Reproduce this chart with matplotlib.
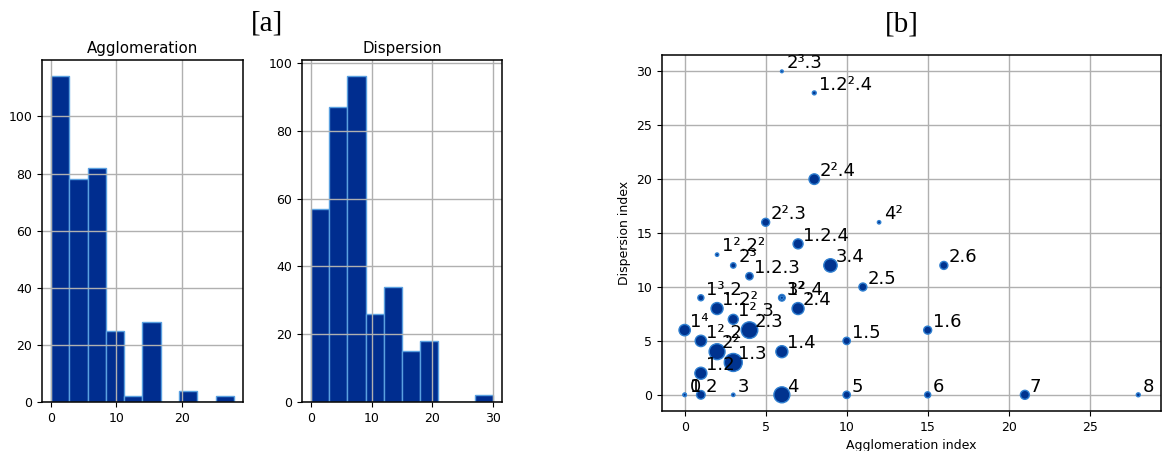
import numpy as np
import matplotlib
matplotlib.use("Agg")
import matplotlib.pyplot as plt

# Histogram counts (10 equal bins over each index's range)
agg_range = (0, 28)
agg_counts = [114, 78, 82, 25, 2, 28, 0, 4, 0, 2]
disp_range = (0, 30)
disp_counts = [57, 87, 96, 26, 34, 15, 18, 0, 0, 2]

# Partition types: agglomeration index, dispersion index, label, marker area
part_x = [6, 8, 8, 5, 12, 7, 2, 3, 4, 9, 11, 16, 1, 6, 6, 2, 7, 3, 0, 4,
          1, 2, 6, 3, 1, 0, 0, 1, 3, 6, 10, 10, 15, 15, 21, 28]
part_y = [30, 28, 20, 16, 16, 14, 13, 12, 11, 12, 10, 12, 9, 9, 9, 8, 8, 7, 6, 6,
          5, 4, 4, 3, 2, 0, 0, 0, 0, 0, 0, 5, 0, 6, 0, 0]
part_labels = ["2³.3", "1.2².4", "2².4", "2².3", "4²", "1.2.4", "1².2²", "2³",
               "1.2.3", "3.4", "2.5", "2.6", "1³.2", "3²", "1².4", "1.2²", "2.4",
               "1².3", "1⁴", "2.3", "1².2", "2²", "1.4", "1.3", "1.2", "0", "1",
               "2", "3", "4", "5", "1.5", "6", "1.6", "7", "8"]
part_sizes = [4, 8, 58, 33, 6, 52, 6, 15, 28, 93, 33, 33, 19, 23, 6, 75, 75,
              52, 67, 143, 67, 132, 75, 168, 75, 6, 6, 38, 6, 132, 28, 28, 19,
              33, 42, 8]

BAR_FACE = "#002d8f"
BAR_EDGE = "#5aa0e0"
DOT_FACE = "#00338f"
DOT_EDGE = "#2f7fd0"
GRID = "#b0b0b0"

plt.rcParams["font.family"] = "DejaVu Sans"
plt.rcParams["font.size"] = 9

fig = plt.figure(figsize=(11.62, 4.51), dpi=100, facecolor="white")
ax_agg = fig.add_axes([0.0361, 0.1086, 0.173, 0.758])
ax_disp = fig.add_axes([0.2599, 0.1086, 0.172, 0.758])
ax_sc = fig.add_axes([0.5697, 0.0887, 0.4294, 0.789])


def draw_hist(ax, counts, rng, title, ticks):
    edges = np.linspace(rng[0], rng[1], len(counts) + 1)
    ax.bar(edges[:-1], counts, width=np.diff(edges), align="edge",
           color=BAR_FACE, edgecolor=BAR_EDGE, linewidth=1.0)
    ax.set_title(title, fontsize=10.8, pad=5)
    ax.set_xticks(ticks)
    ax.set_yticks(range(0, 101, 20))
    ax.grid(True, color=GRID, linewidth=1.0)
    ax.tick_params(labelsize=9, length=3.5)
    for sp in ax.spines.values():
        sp.set_linewidth(1.1)


draw_hist(ax_agg, agg_counts, agg_range, "Agglomeration", [0, 10, 20])
draw_hist(ax_disp, disp_counts, disp_range, "Dispersion", [0, 10, 20, 30])

# Bubble chart of partition types
ax_sc.scatter(part_x, part_y, s=part_sizes, color=DOT_FACE,
              edgecolors=DOT_EDGE, linewidths=1.0, zorder=3)
for x, y, lab in zip(part_x, part_y, part_labels):
    ax_sc.text(x + 0.3, y + 0.3, lab, fontsize=13, zorder=4)
ax_sc.set_xticks(range(0, 26, 5))
ax_sc.set_yticks(range(0, 31, 5))
ax_sc.set_xlabel("Agglomeration index", fontsize=9)
ax_sc.set_ylabel("Dispersion index", fontsize=9)
ax_sc.grid(True, color=GRID, linewidth=1.0)
ax_sc.tick_params(labelsize=9, length=3.5)
for sp in ax_sc.spines.values():
    sp.set_linewidth(1.1)

fig.text(0.23, 0.947, "[a]", family="Liberation Serif", fontsize=21,
         ha="center", va="center")
fig.text(0.776, 0.945, "[b]", family="Liberation Serif", fontsize=21,
         ha="center", va="center")

fig.savefig("out.png", dpi=100, facecolor="white")
